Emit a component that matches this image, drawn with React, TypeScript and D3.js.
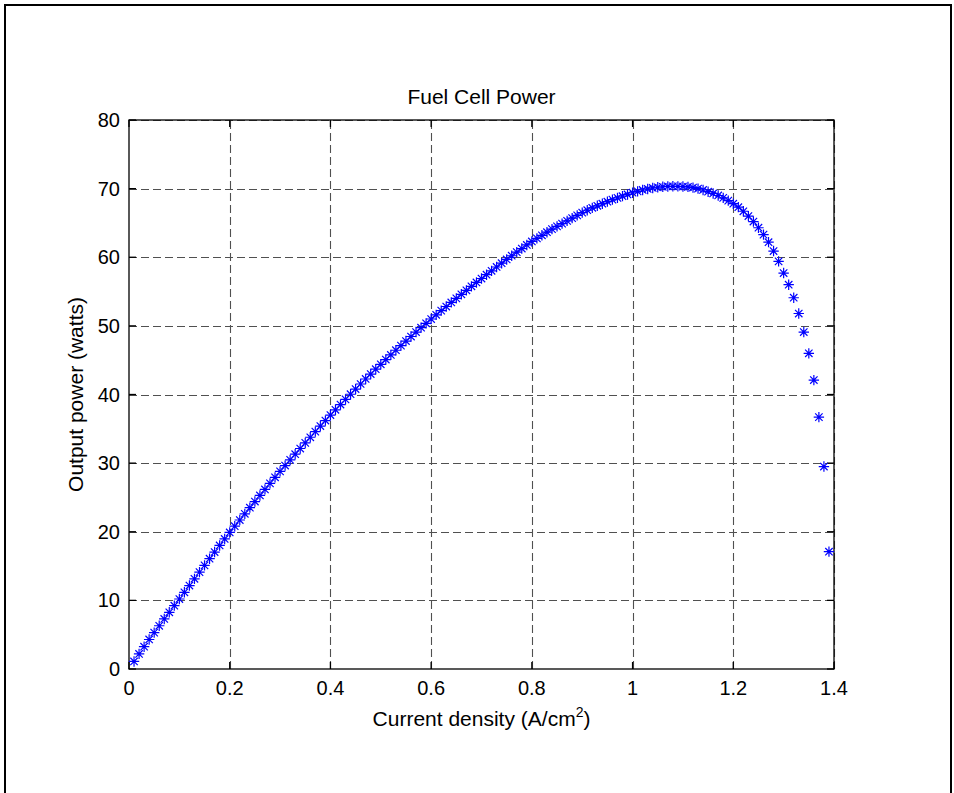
import React, { useEffect, useRef } from 'react';
import * as d3 from 'd3';

// current density (A/cm^2), one marker every 0.01
const currentDensity = [
  0.01, 0.02, 0.03, 0.04, 0.05, 0.06, 0.07, 0.08, 0.09, 0.10,
  0.11, 0.12, 0.13, 0.14, 0.15, 0.16, 0.17, 0.18, 0.19, 0.20,
  0.21, 0.22, 0.23, 0.24, 0.25, 0.26, 0.27, 0.28, 0.29, 0.30,
  0.31, 0.32, 0.33, 0.34, 0.35, 0.36, 0.37, 0.38, 0.39, 0.40,
  0.41, 0.42, 0.43, 0.44, 0.45, 0.46, 0.47, 0.48, 0.49, 0.50,
  0.51, 0.52, 0.53, 0.54, 0.55, 0.56, 0.57, 0.58, 0.59, 0.60,
  0.61, 0.62, 0.63, 0.64, 0.65, 0.66, 0.67, 0.68, 0.69, 0.70,
  0.71, 0.72, 0.73, 0.74, 0.75, 0.76, 0.77, 0.78, 0.79, 0.80,
  0.81, 0.82, 0.83, 0.84, 0.85, 0.86, 0.87, 0.88, 0.89, 0.90,
  0.91, 0.92, 0.93, 0.94, 0.95, 0.96, 0.97, 0.98, 0.99, 1.00,
  1.01, 1.02, 1.03, 1.04, 1.05, 1.06, 1.07, 1.08, 1.09, 1.10,
  1.11, 1.12, 1.13, 1.14, 1.15, 1.16, 1.17, 1.18, 1.19, 1.20,
  1.21, 1.22, 1.23, 1.24, 1.25, 1.26, 1.27, 1.28, 1.29, 1.30,
  1.31, 1.32, 1.33, 1.34, 1.35, 1.36, 1.37, 1.38, 1.39
];

// output power (watts)
const outputPower = [
  1.1, 2.2, 3.25, 4.3, 5.3, 6.3, 7.29, 8.26, 9.23, 10.2,
  11.18, 12.16, 13.14, 14.12, 15.1, 16.07, 17.04, 18.0, 18.95, 19.9,
  20.81, 21.71, 22.61, 23.51, 24.4, 25.29, 26.17, 27.05, 27.93, 28.8,
  29.64, 30.47, 31.3, 32.13, 32.95, 33.77, 34.59, 35.4, 36.2, 37.0,
  37.77, 38.53, 39.29, 40.04, 40.79, 41.53, 42.26, 42.98, 43.69, 44.4,
  45.09, 45.77, 46.45, 47.12, 47.79, 48.45, 49.1, 49.74, 50.37, 51.0,
  51.61, 52.22, 52.82, 53.42, 54.01, 54.6, 55.18, 55.76, 56.33, 56.9,
  57.46, 58.02, 58.58, 59.13, 59.68, 60.22, 60.75, 61.27, 61.79, 62.3,
  62.75, 63.2, 63.65, 64.1, 64.5, 64.9, 65.3, 65.7, 66.1, 66.5,
  66.85, 67.2, 67.5, 67.8, 68.1, 68.4, 68.65, 68.9, 69.15, 69.4,
  69.6, 69.8, 69.95, 70.1, 70.2, 70.27, 70.32, 70.34, 70.33, 70.3,
  70.25, 70.15, 70.0, 69.8, 69.55, 69.3, 69.0, 68.65, 68.25, 67.8,
  67.3, 66.7, 66.0, 65.2, 64.3, 63.3, 62.2, 60.9, 59.4, 57.7,
  56.0, 54.1, 51.8, 49.1, 46.0, 42.1, 36.7, 29.5, 17.1
];

const xTicks = [0, 0.2, 0.4, 0.6, 0.8, 1, 1.2, 1.4];
const yTicks = [0, 10, 20, 30, 40, 50, 60, 70, 80];

const W = 954, H = 793;
const p = { top: 120, left: 129, right: 954 - 834, bottom: 793 - 669 };
const FONT = '"Liberation Sans", Arial, Helvetica, sans-serif';

export default function App() {
  const ref = useRef<SVGSVGElement>(null);

  useEffect(() => {
    document.body.style.margin = '0';
    const svg = d3.select(ref.current);
    svg.selectAll('*').remove();

    const x = d3.scaleLinear().domain([0, 1.4]).range([p.left, W - p.right]);
    const y = d3.scaleLinear().domain([0, 80]).range([H - p.bottom, p.top]);

    // figure frame
    svg.append('path')
       .attr('d', `M5,${H + 5} V5 H951 V${H + 5}`)
       .attr('fill', 'none')
       .attr('stroke', '#000')
       .attr('stroke-width', 2);

    svg.append('rect')
       .attr('x', p.left).attr('y', p.top)
       .attr('width', x(1.4) - p.left).attr('height', y(0) - p.top)
       .attr('fill', '#fff');

    // dashed grid
    const grid = svg.append('g')
                    .attr('stroke', '#505050')
                    .attr('stroke-width', 1.1)
                    .attr('stroke-dasharray', '8,4');
    grid.selectAll('.gx').data(xTicks.slice(1)).enter().append('line')
        .attr('x1', d => Math.round(x(d)) + 0.5).attr('x2', d => Math.round(x(d)) + 0.5)
        .attr('y1', y(0)).attr('y2', y(80));
    grid.selectAll('.gy').data(yTicks.slice(1)).enter().append('line')
        .attr('y1', d => Math.round(y(d)) + 0.5).attr('y2', d => Math.round(y(d)) + 0.5)
        .attr('x1', x(0)).attr('x2', x(1.4));

    // box + inner ticks
    const axes = svg.append('g').attr('stroke', '#000').attr('stroke-width', 1.3).attr('fill', 'none');
    axes.append('rect')
        .attr('x', x(0)).attr('y', y(80))
        .attr('width', x(1.4) - x(0)).attr('height', y(0) - y(80));
    const tl = 7;
    xTicks.forEach(t => {
      axes.append('line').attr('x1', x(t)).attr('x2', x(t)).attr('y1', y(0)).attr('y2', y(0) - tl);
      axes.append('line').attr('x1', x(t)).attr('x2', x(t)).attr('y1', y(80)).attr('y2', y(80) + tl);
    });
    yTicks.forEach(t => {
      axes.append('line').attr('y1', y(t)).attr('y2', y(t)).attr('x1', x(0)).attr('x2', x(0) + tl);
      axes.append('line').attr('y1', y(t)).attr('y2', y(t)).attr('x1', x(1.4)).attr('x2', x(1.4) - tl);
    });

    // tick labels
    svg.selectAll('.xl').data(xTicks).enter().append('text')
       .attr('x', d => x(d)).attr('y', y(0) + 26)
       .attr('text-anchor', 'middle')
       .attr('font-family', FONT).attr('font-size', 20)
       .text(d => String(d));
    svg.selectAll('.yl').data(yTicks).enter().append('text')
       .attr('x', x(0) - 9).attr('y', d => y(d) + 7)
       .attr('text-anchor', 'end')
       .attr('font-family', FONT).attr('font-size', 20)
       .text(d => String(d));

    // title and axis labels
    svg.append('text')
       .attr('x', (x(0) + x(1.4)) / 2).attr('y', 104)
       .attr('text-anchor', 'middle')
       .attr('font-family', FONT).attr('font-size', 21)
       .text('Fuel Cell Power');

    const xl = svg.append('text')
       .attr('x', (x(0) + x(1.4)) / 2).attr('y', 726)
       .attr('text-anchor', 'middle')
       .attr('font-family', FONT).attr('font-size', 21);
    xl.append('tspan').text('Current density (A/cm');
    xl.append('tspan').attr('dy', -9).attr('font-size', 14).text('2');
    xl.append('tspan').attr('dy', 9).text(')');

    svg.append('text')
       .attr('transform', `translate(83,${(y(0) + y(80)) / 2}) rotate(-90)`)
       .attr('text-anchor', 'middle')
       .attr('font-family', FONT).attr('font-size', 21)
       .text('Output power (watts)');

    // asterisk markers
    const a = 5.2, b = 3.7;
    const star = `M${-a},0H${a}M0,${-a}V${a}M${-b},${-b}L${b},${b}M${-b},${b}L${b},${-b}`;
    svg.append('g')
       .attr('stroke', '#0000ff').attr('stroke-width', 1.2).attr('fill', 'none')
       .selectAll('path')
       .data(currentDensity)
       .enter()
       .append('path')
       .attr('transform', (d, i) => `translate(${x(d)},${y(outputPower[i])})`)
       .attr('d', star);
  }, []);

  return (
    <svg ref={ref} width={W} height={H}
         style={{ display: 'block', position: 'absolute', left: 0, top: 0, background: '#fff' }} />
  );
}
